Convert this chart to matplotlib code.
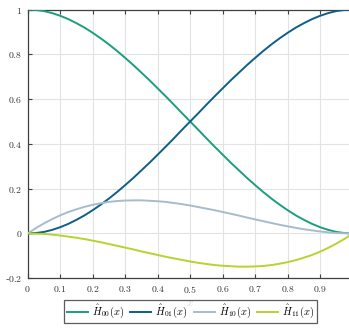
import matplotlib
matplotlib.use('Agg')
import matplotlib.pyplot as plt

plt.rcParams['mathtext.fontset'] = 'cm'
plt.rcParams['font.family'] = 'serif'
plt.rcParams['font.serif'] = ['DejaVu Serif']

# Hermite basis functions sampled on [0, 1]
x = [0.0, 0.025, 0.05, 0.075, 0.1, 0.125, 0.15, 0.175, 0.2, 0.225, 0.25,
     0.275, 0.3, 0.325, 0.35, 0.375, 0.4, 0.425, 0.45, 0.475, 0.5,
     0.525, 0.55, 0.575, 0.6, 0.625, 0.65, 0.675, 0.7, 0.725, 0.75,
     0.775, 0.8, 0.825, 0.85, 0.875, 0.9, 0.925, 0.95, 0.975, 1.0]
h00 = [1.0, 0.998, 0.993, 0.984, 0.972, 0.957, 0.939, 0.919, 0.896, 0.871, 0.844,
       0.815, 0.784, 0.752, 0.718, 0.684, 0.648, 0.612, 0.575, 0.537, 0.5,
       0.463, 0.425, 0.388, 0.352, 0.316, 0.282, 0.248, 0.216, 0.185, 0.156,
       0.129, 0.104, 0.081, 0.061, 0.043, 0.028, 0.016, 0.007, 0.002, 0.0]
h01 = [0.0, 0.002, 0.007, 0.016, 0.028, 0.043, 0.061, 0.081, 0.104, 0.129, 0.156,
       0.185, 0.216, 0.248, 0.282, 0.316, 0.352, 0.388, 0.425, 0.463, 0.5,
       0.537, 0.575, 0.612, 0.648, 0.684, 0.718, 0.752, 0.784, 0.815, 0.844,
       0.871, 0.896, 0.919, 0.939, 0.957, 0.972, 0.984, 0.993, 0.998, 1.0]
h10 = [0.0, 0.024, 0.045, 0.064, 0.081, 0.096, 0.108, 0.119, 0.128, 0.135, 0.141,
       0.145, 0.147, 0.148, 0.148, 0.146, 0.144, 0.141, 0.136, 0.131, 0.125,
       0.118, 0.111, 0.104, 0.096, 0.088, 0.080, 0.071, 0.063, 0.055, 0.047,
       0.039, 0.032, 0.025, 0.019, 0.014, 0.009, 0.005, 0.002, 0.001, 0.0]
h11 = [0.0, -0.001, -0.002, -0.005, -0.009, -0.014, -0.019, -0.025, -0.032, -0.039, -0.047,
       -0.055, -0.063, -0.071, -0.080, -0.088, -0.096, -0.104, -0.111, -0.118, -0.125,
       -0.131, -0.136, -0.141, -0.144, -0.146, -0.148, -0.148, -0.147, -0.145, -0.141,
       -0.135, -0.128, -0.119, -0.108, -0.096, -0.081, -0.064, -0.045, -0.024, 0.0]

labels = [r'$\hat{H}_{00}(x)$', r'$\hat{H}_{01}(x)$', r'$\hat{H}_{10}(x)$', r'$\hat{H}_{11}(x)$']
colors = ['#1b9e7e', '#0d5f87', '#a7bccb', '#b6d32f']

xticks = [0, 0.1, 0.2, 0.3, 0.4, 0.5, 0.6, 0.7, 0.8, 0.9]
xticklabels = ['$0$', '$0.1$', '$0.2$', '$0.3$', '$0.4$', '$0.5$', '$0.6$', '$0.7$', '$0.8$', '$0.9$']
yticks = [-0.2, 0, 0.2, 0.4, 0.6, 0.8, 1]
yticklabels = ['-$0.2$', '$0$', '$0.2$', '$0.4$', '$0.6$', '$0.8$', '$1$']

fig = plt.figure(figsize=(3.49, 3.30), dpi=100)
ax = fig.add_axes([0.0794, 0.1567, 0.931, 0.8145])

for ys, lab, c in zip([h00, h01, h10, h11], labels, colors):
    ax.plot(x, ys, color=c, lw=1.4, label=lab, zorder=3)

ax.set_xlim(0, 1)
ax.set_ylim(-0.2, 1)
ax.set_xticks(xticks)
ax.set_xticklabels(xticklabels)
ax.set_yticks(yticks)
ax.set_yticklabels(yticklabels)
ax.tick_params(direction='in', top=True, right=False, length=3, width=0.8,
               labelsize=7, colors='#404040', labelcolor='#333333', pad=4)
ax.grid(True, color='#e3e3e3', lw=0.8)
ax.set_axisbelow(True)
for s in ['left', 'bottom', 'top']:
    ax.spines[s].set_color('#404040')
    ax.spines[s].set_linewidth(0.9)
ax.spines['right'].set_visible(False)
ax.set_xlabel('$x$', fontsize=8, color='#333333', labelpad=2)

leg = fig.legend(loc='lower center', bbox_to_anchor=(0.546, 0.004), ncol=4,
                 fontsize=7.5, frameon=True, fancybox=False, handlelength=2.0,
                 handletextpad=0.4, columnspacing=0.6, borderpad=0.3)
leg.get_frame().set_edgecolor('#333333')
leg.get_frame().set_linewidth(0.9)

fig.savefig('out.png', dpi=100)
